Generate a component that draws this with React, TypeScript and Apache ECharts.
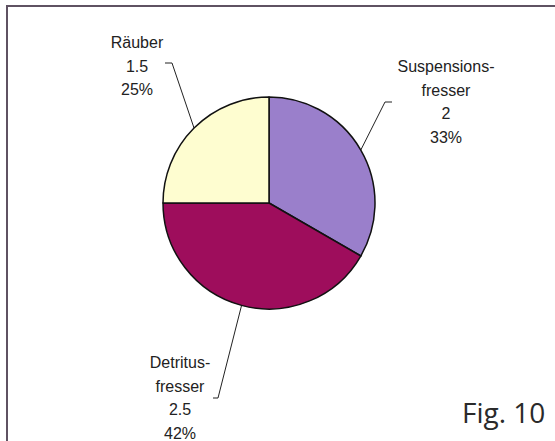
import React, { useEffect, useRef } from "react";
import * as echarts from "echarts";

const categories = ["Suspensionsfresser", "Detritusfresser", "Räuber"];
const labelNames = ["Suspensions-\nfresser", "Detritus-\nfresser", "Räuber"];
const values = [2, 2.5, 1.5];
const colors = ["#9a7fcb", "#9e0d5c", "#fefdd0"];

// label placement (layout only)
const labelPos = [
  { x: 446, y: 102, elbow: [385, 102], end: [392, 102] },
  { x: 180, y: 398, elbow: [218, 398], end: [213, 398] },
  { x: 137, y: 66, elbow: [172, 63], end: [165, 63] },
];

export default function App() {
  const ref = useRef<HTMLDivElement>(null);
  useEffect(() => {
    if (!ref.current) return;
    const chart = echarts.init(ref.current, undefined, { renderer: "svg" });
    const cx = 269, cy = 203, r = 106;
    chart.setOption({
      animation: false,
      backgroundColor: "#ffffff",
      graphic: [
        {
          type: "rect",
          shape: { x: 7, y: 6, width: 570, height: 460 },
          style: { fill: "none", stroke: "#5f5262", lineWidth: 2 },
          silent: true,
          z: 0,
        },
        {
          type: "text",
          left: 462,
          top: 398,
          style: {
            text: "Fig. 10",
            font: '28px "Open Sans"',
            fill: "#2a2a2a",
          },
        },
      ],
      series: [
        {
          type: "pie",
          center: [cx, cy],
          radius: r,
          startAngle: 90,
          clockwise: true,
          percentPrecision: 0,
          itemStyle: { borderColor: "#111", borderWidth: 1.5 },
          label: {
            show: true,
            position: "outside",
            formatter: (p: any) => `${labelNames[p.dataIndex]}\n${p.value}\n${p.percent}%`,
            fontFamily: '"Liberation Sans", Arial, sans-serif',
            fontSize: 16,
            lineHeight: 23.5,
            color: "#222",
            align: "center",
          },
          labelLine: { show: true, lineStyle: { color: "#222", width: 1 } },
          labelLayout: (params: any) => {
            const i = params.dataIndex;
            const lp = labelPos[i];
            let p0 = params.labelLinePoints && params.labelLinePoints[0];
            if (!p0) {
              const cum = values.slice(0, i).reduce((a, b) => a + b, 0);
              const tot = values.reduce((a, b) => a + b, 0);
              const mid = ((cum + values[i] / 2) / tot) * Math.PI * 2;
              p0 = [cx + r * Math.sin(mid), cy - r * Math.cos(mid)];
            }
            return {
              x: lp.x,
              y: lp.y,
              align: "center",
              verticalAlign: "middle",
              labelLinePoints: [p0, lp.elbow, lp.end],
            };
          },
          data: categories.map((name, i) => ({
            name,
            value: values[i],
            itemStyle: { color: colors[i] },
          })),
        },
      ],
    });
    return () => chart.dispose();
  }, []);
  return (
    <div
      ref={ref}
      style={{ position: "absolute", left: 0, top: 0, width: 555, height: 441 }}
    />
  );
}
